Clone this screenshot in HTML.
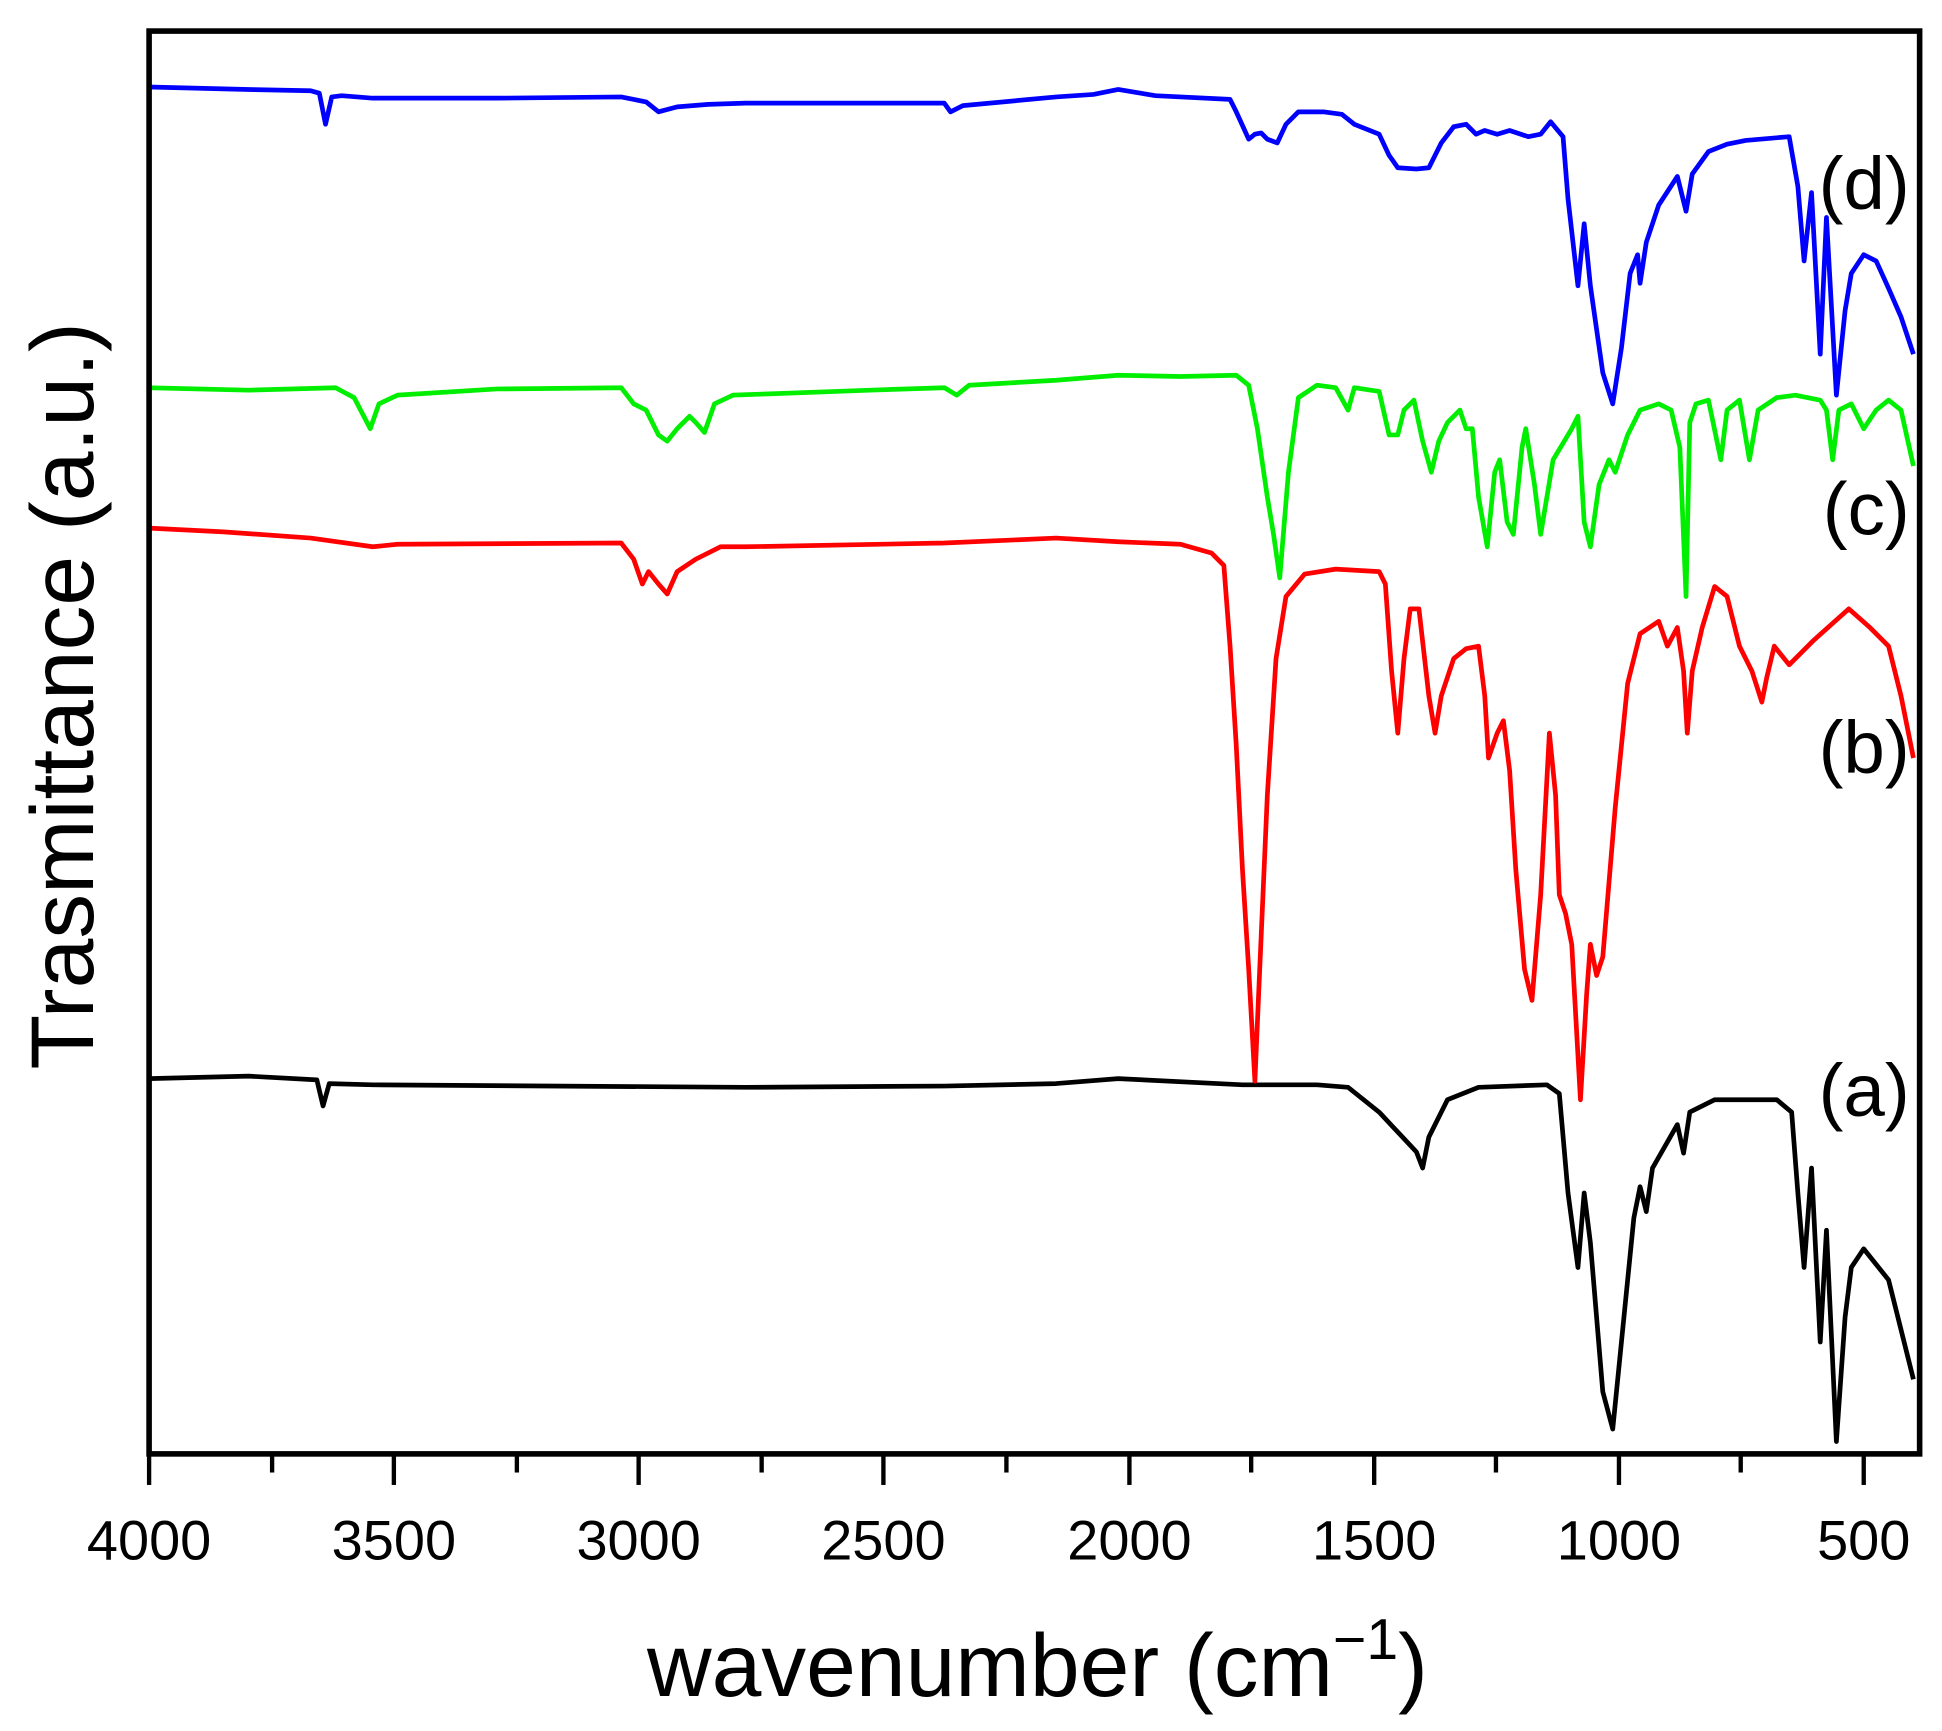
<!DOCTYPE html>
<html><head><meta charset="utf-8"><style>html,body{margin:0;padding:0;background:#fff}svg{display:block}</style></head>
<body>
<svg width="1942" height="1731" viewBox="0 0 1563 1393" preserveAspectRatio="none" xmlns="http://www.w3.org/2000/svg" font-family="Liberation Sans, sans-serif">
<rect width="1563" height="1393" fill="#fff"/>
<g fill="none" stroke-width="3.8" stroke-linejoin="round">
<polyline stroke="#000" points="120,868 200,866 255,869 260,890 265,872 300,873 600,875 760,874 850,872 900,868 1000,873 1060,873 1085,875 1110,895 1140,927 1145,940 1150,915 1165,885 1190,875 1245,873 1255,880 1262,960 1270,1020 1275,960 1280,1000 1290,1120 1298,1150 1305,1080 1315,980 1320,955 1325,975 1330,940 1350,905 1355,928 1360,895 1380,885 1430,885 1442,895 1447,960 1452,1020 1458,940 1465,1080 1470,990 1478,1160 1485,1060 1490,1020 1500,1005 1520,1030 1540,1110"/>
<polyline stroke="#ff0000" points="120,425 180,428 250,433 300,440 320,438 500,437 510,450 517,470 522,460 530,470 537,478 545,460 560,450 580,440 600,440 760,437 850,433 900,436 950,438 975,445 985,455 990,520 995,600 1000,700 1005,780 1010,870 1013,800 1020,640 1027,530 1035,480 1050,462 1075,458 1110,460 1115,470 1120,540 1125,590 1130,530 1135,490 1142,490 1150,560 1155,590 1160,560 1170,530 1180,522 1190,520 1195,560 1198,610 1205,590 1210,580 1215,620 1220,700 1227,780 1233,805 1240,720 1247,590 1252,640 1255,720 1260,735 1265,760 1272,885 1277,800 1280,760 1285,785 1290,770 1300,650 1310,550 1320,510 1335,500 1342,520 1350,505 1355,540 1358,590 1362,540 1370,505 1380,472 1390,480 1400,520 1410,540 1418,565 1422,545 1428,520 1440,535 1460,515 1488,490 1505,505 1520,520 1530,560 1540,610"/>
<polyline stroke="#00ee00" points="120,312 200,314 270,312 285,320 298,345 305,325 320,318 400,313 500,312 510,325 520,330 530,350 537,355 545,345 555,335 560,340 567,348 575,325 590,318 700,314 760,312 770,318 780,310 850,306 900,302 950,303 995,302 1005,310 1012,345 1020,400 1025,430 1030,465 1037,380 1045,320 1060,310 1075,312 1085,330 1090,312 1110,315 1118,350 1125,350 1130,330 1138,322 1145,355 1152,380 1158,355 1165,340 1175,330 1180,345 1185,345 1190,400 1197,440 1203,380 1207,370 1213,420 1218,430 1225,360 1228,345 1235,390 1240,430 1250,370 1265,345 1270,335 1275,420 1280,440 1287,390 1295,370 1300,380 1310,350 1320,330 1335,325 1345,330 1352,360 1357,480 1360,340 1365,325 1375,322 1385,370 1390,330 1400,322 1408,370 1415,330 1430,320 1445,318 1465,322 1470,330 1475,370 1480,330 1490,325 1500,345 1510,330 1520,322 1530,330 1540,375"/>
<polyline stroke="#0000ff" points="120,70 200,72 250,73 257,75 262,100 267,78 275,77 300,79 400,79 500,78 520,82 530,90 545,86 570,84 600,83 760,83 765,90 775,85 850,78 880,76 900,72 930,77 990,80 995,90 1005,112 1010,108 1015,107 1020,112 1028,115 1035,100 1045,90 1065,90 1080,92 1090,100 1110,108 1118,125 1125,135 1140,136 1150,135 1160,115 1170,102 1180,100 1188,108 1195,105 1205,108 1215,105 1230,110 1240,108 1248,98 1258,110 1262,160 1270,230 1275,180 1280,230 1290,300 1298,325 1305,280 1312,220 1318,205 1320,228 1325,195 1335,165 1350,142 1357,170 1362,140 1375,122 1390,116 1405,113 1440,110 1447,150 1452,210 1458,155 1465,285 1470,175 1478,318 1485,250 1490,220 1500,205 1510,210 1520,232 1530,255 1540,285"/>
</g>
<rect x="120" y="25" width="1425" height="1145" fill="none" stroke="#000" stroke-width="4.5"/>
<g stroke="#000" stroke-width="3.5">
<line x1="120" y1="1170" x2="120" y2="1195"/><line x1="219" y1="1170" x2="219" y2="1185"/>
<line x1="317" y1="1170" x2="317" y2="1195"/><line x1="416" y1="1170" x2="416" y2="1185"/>
<line x1="514" y1="1170" x2="514" y2="1195"/><line x1="613" y1="1170" x2="613" y2="1185"/>
<line x1="711" y1="1170" x2="711" y2="1195"/><line x1="810" y1="1170" x2="810" y2="1185"/>
<line x1="909" y1="1170" x2="909" y2="1195"/><line x1="1007" y1="1170" x2="1007" y2="1185"/>
<line x1="1106" y1="1170" x2="1106" y2="1195"/><line x1="1204" y1="1170" x2="1204" y2="1185"/>
<line x1="1303" y1="1170" x2="1303" y2="1195"/><line x1="1401" y1="1170" x2="1401" y2="1185"/>
<line x1="1500" y1="1170" x2="1500" y2="1195"/>
</g>
<g font-size="45" text-anchor="middle" fill="#000">
<text x="120" y="1255">4000</text><text x="317" y="1255">3500</text><text x="514" y="1255">3000</text>
<text x="711" y="1255">2500</text><text x="909" y="1255">2000</text><text x="1106" y="1255">1500</text>
<text x="1303" y="1255">1000</text><text x="1500" y="1255">500</text>
</g>
<text x="835" y="1365" font-size="72" text-anchor="middle">wavenumber (cm<tspan dy="-30" font-size="46">−1</tspan><tspan dy="30">)</tspan></text>
<text transform="translate(75,560) rotate(-90)" font-size="72" text-anchor="middle">Trasmittance (a.u.)</text>
<g font-size="60" text-anchor="end">
<text x="1537" y="168">(d)</text><text x="1537" y="430">(c)</text><text x="1537" y="622">(b)</text><text x="1537" y="898">(a)</text>
</g>
</svg>
</body></html>
